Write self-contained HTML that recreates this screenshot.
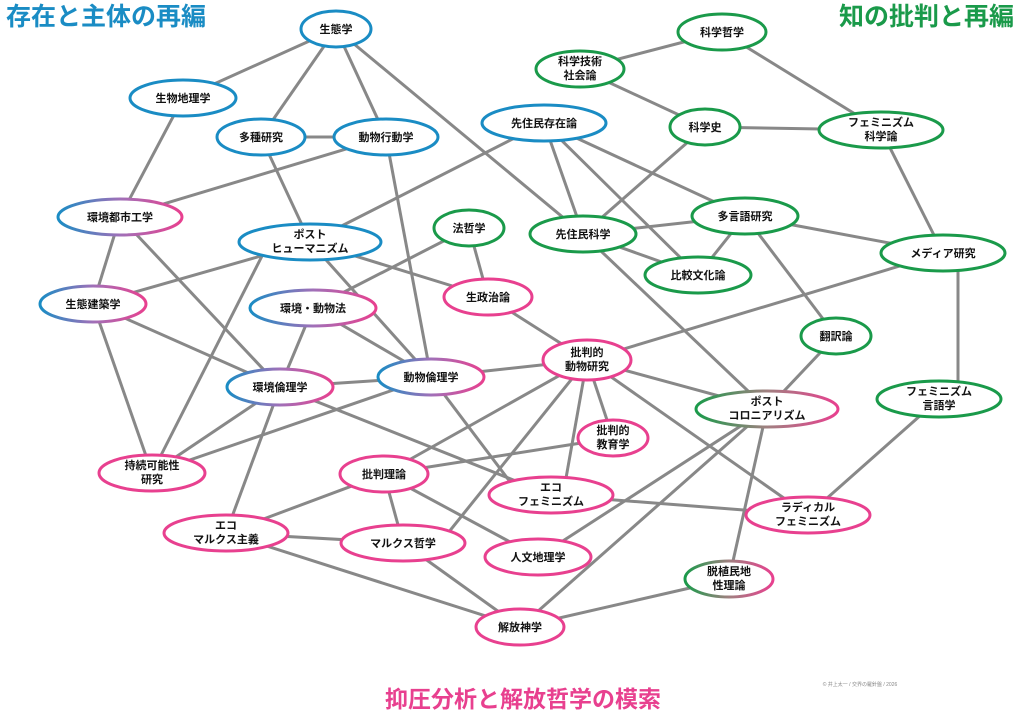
<!DOCTYPE html>
<html><head><meta charset="utf-8"><style>
html,body{margin:0;padding:0;background:#fff;}
svg{display:block;}
text{font-family:"Liberation Sans","Noto Sans CJK JP",sans-serif;font-weight:bold;}
</style></head><body>
<svg width="1024" height="718" viewBox="0 0 1024 718" xmlns="http://www.w3.org/2000/svg">
<defs>
<linearGradient id="bp" x1="0" y1="0" x2="1" y2="0"><stop offset="0" stop-color="#1a8cc4"/><stop offset="0.5" stop-color="#a070b8"/><stop offset="1" stop-color="#e8408f"/></linearGradient>
<linearGradient id="gp" x1="0" y1="0" x2="1" y2="0"><stop offset="0" stop-color="#1a9a4a"/><stop offset="0.5" stop-color="#a08080"/><stop offset="1" stop-color="#e8408f"/></linearGradient>
</defs>
<g stroke="#888" stroke-width="3" fill="none">
<line x1="336" y1="29" x2="183" y2="98"/><line x1="336" y1="29" x2="261" y2="137"/><line x1="336" y1="29" x2="386" y2="137"/><line x1="336" y1="29" x2="583" y2="234"/>
<line x1="183" y1="98" x2="120" y2="217"/><line x1="261" y1="137" x2="386" y2="137"/><line x1="261" y1="137" x2="310" y2="242"/>
<line x1="386" y1="137" x2="120" y2="217"/><line x1="386" y1="137" x2="431" y2="377"/>
<line x1="120" y1="217" x2="93" y2="304"/><line x1="120" y1="217" x2="280" y2="387"/>
<line x1="310" y1="242" x2="544" y2="123"/><line x1="310" y1="242" x2="93" y2="304"/><line x1="262" y1="256" x2="152" y2="473"/><line x1="310" y1="242" x2="488" y2="297"/><line x1="310" y1="242" x2="431" y2="377"/>
<line x1="469" y1="228" x2="313" y2="308"/><line x1="469" y1="228" x2="488" y2="297"/>
<line x1="93" y1="304" x2="280" y2="387"/><line x1="93" y1="304" x2="152" y2="473"/>
<line x1="313" y1="308" x2="280" y2="387"/><line x1="313" y1="308" x2="431" y2="377"/>
<line x1="488" y1="297" x2="587" y2="360"/>
<line x1="544" y1="123" x2="583" y2="234"/><line x1="544" y1="123" x2="698" y2="275"/><line x1="544" y1="123" x2="745" y2="216"/>
<line x1="580" y1="69" x2="722" y2="32"/><line x1="580" y1="69" x2="705" y2="127"/>
<line x1="722" y1="32" x2="881" y2="130"/><line x1="705" y1="127" x2="881" y2="130"/><line x1="705" y1="127" x2="583" y2="234"/>
<line x1="583" y1="234" x2="745" y2="216"/><line x1="583" y1="234" x2="698" y2="275"/><line x1="583" y1="234" x2="767" y2="409"/>
<line x1="745" y1="216" x2="698" y2="275"/><line x1="745" y1="216" x2="943" y2="253"/><line x1="745" y1="216" x2="836" y2="336"/>
<line x1="881" y1="130" x2="943" y2="253"/><line x1="943" y1="253" x2="587" y2="360"/><line x1="958" y1="253" x2="958" y2="399"/>
<line x1="836" y1="336" x2="767" y2="409"/>
<line x1="587" y1="360" x2="431" y2="377"/><line x1="587" y1="360" x2="767" y2="409"/><line x1="587" y1="360" x2="613" y2="438"/><line x1="587" y1="360" x2="563" y2="495"/><line x1="587" y1="360" x2="384" y2="474"/><line x1="587" y1="360" x2="440" y2="543"/><line x1="587" y1="360" x2="808" y2="515"/>
<line x1="280" y1="387" x2="431" y2="377"/><line x1="280" y1="387" x2="152" y2="473"/><line x1="280" y1="387" x2="226" y2="533"/><line x1="280" y1="387" x2="551" y2="495"/>
<line x1="431" y1="377" x2="152" y2="473"/><line x1="431" y1="377" x2="520" y2="495"/>
<line x1="939" y1="399" x2="808" y2="515"/>
<line x1="767" y1="409" x2="538" y2="557"/><line x1="767" y1="409" x2="520" y2="627"/><line x1="767" y1="409" x2="729" y2="579"/>
<line x1="613" y1="438" x2="384" y2="474"/>
<line x1="384" y1="474" x2="226" y2="533"/><line x1="384" y1="474" x2="403" y2="543"/><line x1="384" y1="474" x2="538" y2="557"/>
<line x1="551" y1="495" x2="808" y2="515"/>
<line x1="226" y1="533" x2="403" y2="543"/><line x1="226" y1="533" x2="520" y2="627"/><line x1="403" y1="543" x2="520" y2="627"/><line x1="729" y1="579" x2="520" y2="627"/>
</g>
<g fill="#fff" stroke-width="3">
<ellipse cx="336" cy="29" rx="35" ry="18" stroke="#1a8cc4"/>
<ellipse cx="183" cy="98" rx="53" ry="18" stroke="#1a8cc4"/>
<ellipse cx="261" cy="137" rx="44" ry="18" stroke="#1a8cc4"/>
<ellipse cx="386" cy="137" rx="52" ry="18" stroke="#1a8cc4"/>
<ellipse cx="120" cy="217" rx="62" ry="18" stroke="url(#bp)"/>
<ellipse cx="310" cy="242" rx="71" ry="18" stroke="#1a8cc4"/>
<ellipse cx="93" cy="304" rx="53" ry="18" stroke="url(#bp)"/>
<ellipse cx="313" cy="308" rx="63" ry="18" stroke="url(#bp)"/>
<ellipse cx="469" cy="228" rx="35" ry="18" stroke="#1a9a4a"/>
<ellipse cx="488" cy="297" rx="44" ry="18" stroke="#e8408f"/>
<ellipse cx="544" cy="123" rx="62" ry="18" stroke="#1a8cc4"/>
<ellipse cx="580" cy="69" rx="44" ry="18" stroke="#1a9a4a"/>
<ellipse cx="722" cy="32" rx="44" ry="18" stroke="#1a9a4a"/>
<ellipse cx="705" cy="127" rx="35" ry="18" stroke="#1a9a4a"/>
<ellipse cx="881" cy="130" rx="62" ry="18" stroke="#1a9a4a"/>
<ellipse cx="583" cy="234" rx="53" ry="18" stroke="#1a9a4a"/>
<ellipse cx="745" cy="216" rx="53" ry="18" stroke="#1a9a4a"/>
<ellipse cx="698" cy="275" rx="53" ry="18" stroke="#1a9a4a"/>
<ellipse cx="943" cy="253" rx="62" ry="18" stroke="#1a9a4a"/>
<ellipse cx="836" cy="336" rx="35" ry="18" stroke="#1a9a4a"/>
<ellipse cx="587" cy="360" rx="44" ry="20" stroke="#e8408f"/>
<ellipse cx="280" cy="387" rx="53" ry="18" stroke="url(#bp)"/>
<ellipse cx="431" cy="377" rx="53" ry="18" stroke="url(#bp)"/>
<ellipse cx="939" cy="399" rx="62" ry="18" stroke="#1a9a4a"/>
<ellipse cx="767" cy="409" rx="71" ry="18" stroke="url(#gp)"/>
<ellipse cx="613" cy="438" rx="35" ry="18" stroke="#e8408f"/>
<ellipse cx="152" cy="473" rx="53" ry="18" stroke="#e8408f"/>
<ellipse cx="384" cy="474" rx="44" ry="18" stroke="#e8408f"/>
<ellipse cx="551" cy="495" rx="62" ry="18" stroke="#e8408f"/>
<ellipse cx="808" cy="515" rx="62" ry="18" stroke="#e8408f"/>
<ellipse cx="226" cy="533" rx="62" ry="18" stroke="#e8408f"/>
<ellipse cx="403" cy="543" rx="62" ry="18" stroke="#e8408f"/>
<ellipse cx="538" cy="557" rx="53" ry="18" stroke="#e8408f"/>
<ellipse cx="729" cy="579" rx="44" ry="18" stroke="url(#gp)"/>
<ellipse cx="520" cy="627" rx="44" ry="18" stroke="#e8408f"/>
</g>
<g font-size="11" fill="#111" text-anchor="middle">
<text x="336" y="33">生態学</text>
<text x="183" y="102">生物地理学</text>
<text x="261" y="141">多種研究</text>
<text x="386" y="141">動物行動学</text>
<text x="120" y="221">環境都市工学</text>
<text x="310" y="238">ポスト</text><text x="310" y="252">ヒューマニズム</text>
<text x="93" y="308">生態建築学</text>
<text x="313" y="312">環境・動物法</text>
<text x="469" y="232">法哲学</text>
<text x="488" y="301">生政治論</text>
<text x="544" y="127">先住民存在論</text>
<text x="580" y="65">科学技術</text><text x="580" y="79">社会論</text>
<text x="722" y="36">科学哲学</text>
<text x="705" y="131">科学史</text>
<text x="881" y="126">フェミニズム</text><text x="881" y="140">科学論</text>
<text x="583" y="238">先住民科学</text>
<text x="745" y="220">多言語研究</text>
<text x="698" y="279">比較文化論</text>
<text x="943" y="257">メディア研究</text>
<text x="836" y="340">翻訳論</text>
<text x="587" y="356">批判的</text><text x="587" y="370">動物研究</text>
<text x="280" y="391">環境倫理学</text>
<text x="431" y="381">動物倫理学</text>
<text x="939" y="395">フェミニズム</text><text x="939" y="409">言語学</text>
<text x="767" y="405">ポスト</text><text x="767" y="419">コロニアリズム</text>
<text x="613" y="434">批判的</text><text x="613" y="448">教育学</text>
<text x="152" y="469">持続可能性</text><text x="152" y="483">研究</text>
<text x="384" y="478">批判理論</text>
<text x="551" y="491">エコ</text><text x="551" y="505">フェミニズム</text>
<text x="808" y="511">ラディカル</text><text x="808" y="525">フェミニズム</text>
<text x="226" y="529">エコ</text><text x="226" y="543">マルクス主義</text>
<text x="403" y="547">マルクス哲学</text>
<text x="538" y="561">人文地理学</text>
<text x="729" y="575">脱植民地</text><text x="729" y="589">性理論</text>
<text x="520" y="631">解放神学</text>
</g>
<text x="6" y="25" font-size="25" fill="#1a8cc4">存在と主体の再編</text>
<text x="1014" y="25" font-size="25" fill="#1a9a4a" text-anchor="end">知の批判と再編</text>
<text x="523" y="707" font-size="23" fill="#e8408f" text-anchor="middle">抑圧分析と解放哲学の模索</text>
<text x="860" y="686" font-size="5" fill="#888" text-anchor="middle" style="font-weight:normal">© 井上太一 / 交界の羅針盤 / 2026</text>
</svg>
</body></html>
